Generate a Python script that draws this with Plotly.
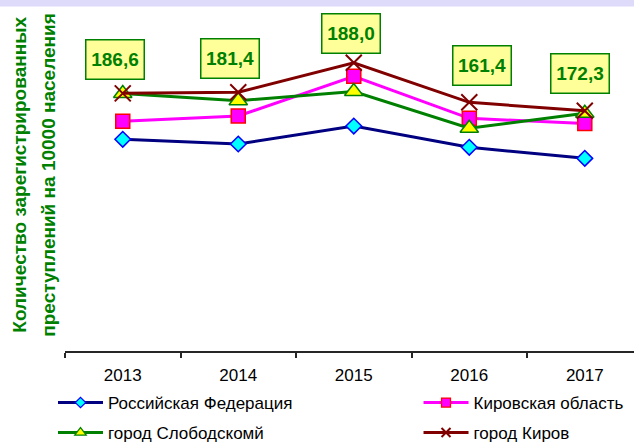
import plotly.graph_objects as go

years = ["2013", "2014", "2015", "2016", "2017"]
rf = [153.4, 150.0, 163.0, 147.6, 139.6]
kirov_obl = [166.5, 170.3, 199.1, 168.6, 164.8]
slobodskoy = [186.6, 181.4, 188.0, 161.4, 172.3]
kirov_city = [186.7, 187.5, 208.9, 180.2, 174.1]
label_texts = ["186,6", "181,4", "188,0", "161,4", "172,3"]

names = ["Российская Федерация", "Кировская область", "город Слободскомй", "город Киров"]
ytitle_lines = ["Количество зарегистрированных", "преступлений на 10000 населения"]

FONT = "Liberation Sans, Arial, sans-serif"
GREEN = "#008000"
BAND = "#dedaf9"

series = [
    dict(y=rf, name=names[0], line="#000080", sym="diamond", size=12, fill="#00ffff", edge="#0000ff", lsize=8, legend="legend"),
    dict(y=kirov_obl, name=names[1], line="#ff00ff", sym="square", size=14, fill="#ff00ff", edge="#ff0000", lsize=9, legend="legend2"),
    dict(y=slobodskoy, name=names[2], line=GREEN, sym="triangle-up", size=16, fill="#ffff00", edge=GREEN, lsize=10, legend="legend3"),
    dict(y=kirov_city, name=names[3], line="#800000", sym="x-thin", size=16, fill="#800000", edge="#800000", lsize=9, legend="legend4"),
]

fig = go.Figure()
for s in series:
    ew = 2 if s["sym"] == "x-thin" else 1.5
    fig.add_trace(go.Scatter(
        x=years, y=s["y"], name=s["name"], mode="lines+markers", showlegend=False,
        line=dict(color=s["line"], width=3),
        marker=dict(symbol=s["sym"], size=s["size"], color=s["fill"], line=dict(color=s["edge"], width=ew))))
for s in series:
    ew = 2 if s["sym"] == "x-thin" else 1.2
    # legend entry (smaller symbol as in the original legend)
    fig.add_trace(go.Scatter(
        x=[None], y=[None], name=s["name"], mode="lines+markers", legend=s["legend"],
        line=dict(color=s["line"], width=3),
        marker=dict(symbol=s["sym"], size=s["lsize"], color=s["fill"], line=dict(color=s["edge"], width=ew))))

# data labels (Slobodskoy values)
xshifts = [-8, -8, -3, 13, -5]
yshifts = [34, 42, 58, 63, 40]
for i, (v, t, dx, dy) in enumerate(zip(slobodskoy, label_texts, xshifts, yshifts)):
    fig.add_annotation(x=i, y=v, text=t, showarrow=False, xref="x", yref="y",
                       xshift=dx, yshift=dy, xanchor="center", yanchor="middle",
                       font=dict(family=FONT, size=19, color=GREEN, weight="bold"),
                       bgcolor="#ffff99", bordercolor=GREEN, borderwidth=1.5,
                       width=55, height=36, borderpad=1)

# y-axis title (two lines)
for xp, line in zip([-0.0791, -0.0281], ytitle_lines):
    fig.add_annotation(xref="paper", yref="paper", x=xp, y=0.517, showarrow=False,
                       text=line, textangle=-90, xanchor="center", yanchor="middle",
                       font=dict(family=FONT, size=19, color=GREEN, weight="bold"))

# top lavender band
fig.add_shape(type="rect", xref="paper", yref="paper", x0=-0.2, x1=1.1, y0=1.0103, y1=1.0293,
              fillcolor=BAND, line=dict(width=0), layer="above")

leg_common = dict(orientation="v", xanchor="left", yanchor="middle", itemwidth=45,
                  bgcolor="rgba(0,0,0,0)", borderwidth=0,
                  font=dict(family=FONT, size=17, color="#000000"))
fig.update_layout(
    width=634, height=445,
    margin=dict(l=65, r=0, t=10, b=94, autoexpand=False),
    paper_bgcolor="rgba(0,0,0,0)", plot_bgcolor="rgba(0,0,0,0)",
    font=dict(family=FONT, size=17, color="#000000"),
    xaxis=dict(type="category", range=[-0.5, 4.426], showgrid=False, zeroline=False,
               showline=True, linecolor="#262626", linewidth=2,
               ticks="outside", tickson="boundaries", ticklen=5, tickwidth=1.5, tickcolor="#262626",
               ticklabelstandoff=8,
               tickfont=dict(family=FONT, size=17, color="#000000")),
    yaxis=dict(range=[0, 247.1], showgrid=False, zeroline=False, showline=False,
               showticklabels=False, ticks=""),
    legend=dict(x=-0.0211, y=-0.1525, **leg_common),
    legend2=dict(x=0.6213, y=-0.1525, **leg_common),
    legend3=dict(x=-0.0211, y=-0.2405, **leg_common),
    legend4=dict(x=0.6213, y=-0.2405, **leg_common),
)

page_css = ("document.body.style.margin='0';document.body.style.overflow='hidden';"
            "document.body.style.background='linear-gradient(" + BAND + " 0px, " + BAND + " 6px, #ffffff 6px)';")
fig.write_html("out.html", config={"displayModeBar": False}, post_script=page_css)
